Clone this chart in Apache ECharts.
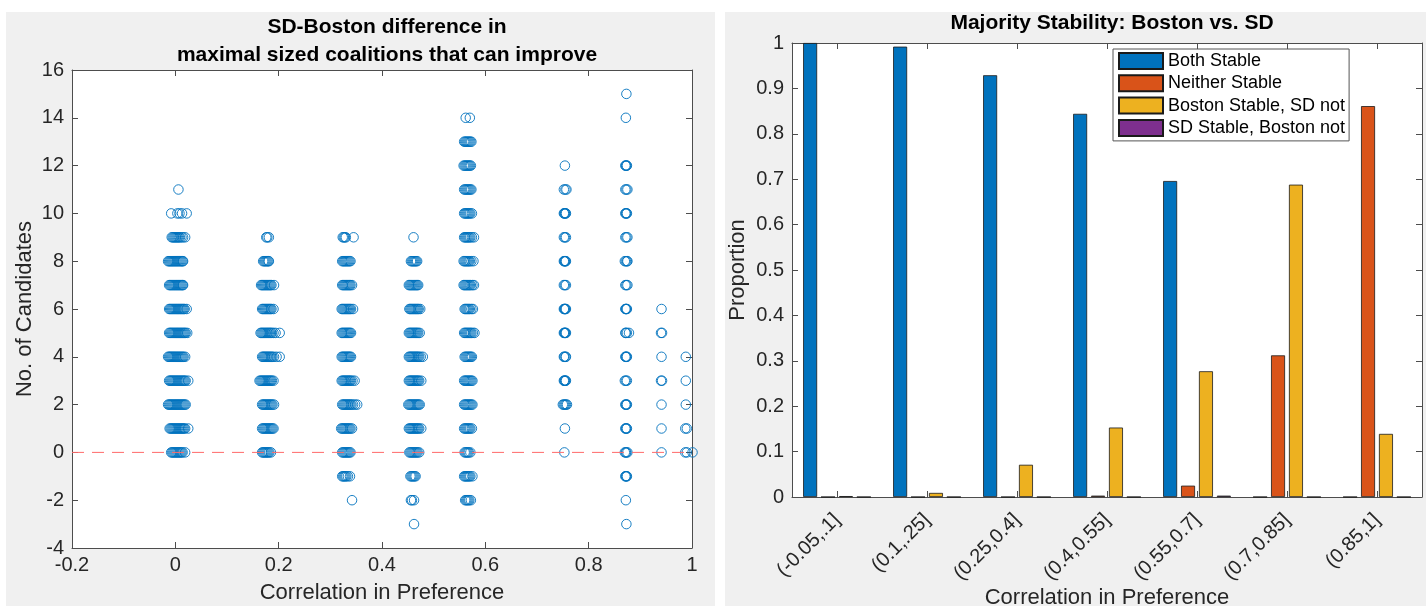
<!DOCTYPE html>
<html>
<head>
<meta charset="utf-8">
<script src="https://cdn.jsdelivr.net/npm/echarts@6/dist/echarts.min.js"></script>
<style>
  html, body { margin: 0; padding: 0; background: #fff; }
  #chart { width: 1426px; height: 606px; }
</style>
</head>
<body>
<div id="chart"></div>
<script>
// ---- Left panel: observations per correlation group, rows are [y, x1, x2, ...] ----
const groupNear000 = [
  [11, 0.006],
  [10, -0.008, 0.004, 0.008, 0.013, 0.022],
  [9, -0.007, -0.005, -0.003, -0.001, 0.001, 0.003, 0.005, 0.007, 0.009, 0.012, 0.015, 0.019],
  [8, -0.014, -0.012, -0.010, -0.008, -0.006, -0.004, -0.002, 0.000, 0.002, 0.004, 0.006, 0.008, 0.010, 0.012, 0.014, 0.015],
  [7, -0.012, -0.010, -0.008, -0.006, -0.004, -0.002, 0.000, 0.002, 0.004, 0.006, 0.008, 0.010, 0.012, 0.014, 0.015],
  [6, -0.012, -0.010, -0.008, -0.006, -0.004, -0.002, 0.000, 0.002, 0.004, 0.006, 0.008, 0.010, 0.012, 0.014, 0.016, 0.018, 0.022],
  [5, -0.012, -0.010, -0.008, -0.006, -0.004, -0.002, 0.000, 0.002, 0.004, 0.006, 0.008, 0.010, 0.012, 0.014, 0.016, 0.018, 0.020, 0.023],
  [4, -0.014, -0.012, -0.010, -0.008, -0.006, -0.004, -0.002, 0.000, 0.002, 0.004, 0.006, 0.008, 0.010, 0.012, 0.014, 0.016, 0.019],
  [3, -0.012, -0.010, -0.008, -0.006, -0.004, -0.002, 0.000, 0.002, 0.004, 0.006, 0.008, 0.010, 0.012, 0.014, 0.016, 0.018, 0.020, 0.025],
  [2, -0.014, -0.012, -0.010, -0.008, -0.006, -0.004, -0.002, 0.000, 0.002, 0.004, 0.006, 0.008, 0.010, 0.012, 0.014, 0.016, 0.018, 0.020],
  [1, -0.011, -0.009, -0.007, -0.005, -0.003, -0.001, 0.001, 0.003, 0.005, 0.007, 0.009, 0.011, 0.013, 0.015, 0.017, 0.019, 0.025],
  [0, -0.008, -0.006, -0.004, -0.002, 0.000, 0.002, 0.004, 0.006, 0.008, 0.010, 0.012, 0.014, 0.019]
];
const groupNear018 = [
  [9, 0.176, 0.178, 0.181],
  [8, 0.170, 0.172, 0.174, 0.176, 0.178, 0.180, 0.181],
  [7, 0.166, 0.168, 0.170, 0.172, 0.174, 0.176, 0.178, 0.180, 0.182, 0.184, 0.186, 0.191],
  [6, 0.168, 0.170, 0.172, 0.174, 0.176, 0.178, 0.180, 0.182, 0.184, 0.186, 0.190],
  [5, 0.165, 0.167, 0.169, 0.171, 0.173, 0.175, 0.177, 0.179, 0.181, 0.183, 0.185, 0.187, 0.190, 0.194, 0.202],
  [4, 0.168, 0.170, 0.172, 0.174, 0.176, 0.178, 0.180, 0.182, 0.184, 0.186, 0.188, 0.191, 0.196, 0.202],
  [3, 0.163, 0.165, 0.167, 0.169, 0.171, 0.173, 0.175, 0.177, 0.179, 0.181, 0.183, 0.185, 0.187, 0.190],
  [2, 0.168, 0.170, 0.172, 0.174, 0.176, 0.178, 0.180, 0.182, 0.184, 0.186, 0.188, 0.191],
  [1, 0.168, 0.170, 0.172, 0.174, 0.176, 0.178, 0.180, 0.182, 0.184, 0.186, 0.188, 0.190],
  [0, 0.168, 0.170, 0.172, 0.174, 0.176, 0.178, 0.180, 0.182, 0.185]
];
const groupNear033 = [
  [9, 0.324, 0.326, 0.328, 0.330, 0.345],
  [8, 0.323, 0.325, 0.327, 0.329, 0.331, 0.333, 0.335, 0.337, 0.339],
  [7, 0.323, 0.325, 0.327, 0.329, 0.331, 0.333, 0.335, 0.337, 0.339, 0.342],
  [6, 0.322, 0.324, 0.326, 0.328, 0.330, 0.332, 0.334, 0.336, 0.338, 0.340, 0.344],
  [5, 0.322, 0.324, 0.326, 0.328, 0.330, 0.332, 0.334, 0.336, 0.338, 0.340],
  [4, 0.322, 0.324, 0.326, 0.328, 0.330, 0.332, 0.334, 0.336, 0.338, 0.340],
  [3, 0.322, 0.324, 0.326, 0.328, 0.330, 0.332, 0.334, 0.336, 0.338, 0.340, 0.343, 0.347],
  [2, 0.323, 0.325, 0.327, 0.329, 0.331, 0.333, 0.335, 0.337, 0.339, 0.341, 0.344, 0.348, 0.352],
  [1, 0.321, 0.323, 0.325, 0.327, 0.329, 0.331, 0.333, 0.335, 0.337, 0.339, 0.342],
  [0, 0.323, 0.325, 0.327, 0.329, 0.331, 0.333, 0.335, 0.337, 0.339],
  [-1, 0.323, 0.325, 0.327, 0.329, 0.331, 0.334, 0.338],
  [-2, 0.342]
];
const groupNear046 = [
  [9, 0.461],
  [8, 0.456, 0.458, 0.460, 0.462, 0.464, 0.466, 0.468],
  [7, 0.452, 0.454, 0.456, 0.458, 0.460, 0.462, 0.464, 0.466, 0.468, 0.470],
  [6, 0.453, 0.455, 0.457, 0.459, 0.461, 0.463, 0.465, 0.467, 0.469, 0.471, 0.474],
  [5, 0.452, 0.454, 0.456, 0.458, 0.460, 0.462, 0.464, 0.466, 0.468, 0.470, 0.473],
  [4, 0.452, 0.454, 0.456, 0.458, 0.460, 0.462, 0.464, 0.466, 0.468, 0.470, 0.472, 0.475, 0.479],
  [3, 0.452, 0.454, 0.456, 0.458, 0.460, 0.462, 0.464, 0.466, 0.468, 0.470, 0.472, 0.476],
  [2, 0.451, 0.453, 0.455, 0.457, 0.459, 0.461, 0.463, 0.465, 0.467, 0.469, 0.471, 0.473],
  [1, 0.452, 0.454, 0.456, 0.458, 0.460, 0.462, 0.464, 0.466, 0.468, 0.470, 0.472, 0.476],
  [0, 0.453, 0.455, 0.457, 0.459, 0.461, 0.463, 0.465, 0.467, 0.469, 0.472],
  [-1, 0.455, 0.457, 0.459, 0.461, 0.463, 0.465],
  [-2, 0.456, 0.458, 0.462],
  [-3, 0.462]
];
const groupNear057 = [
  [14, 0.562, 0.570],
  [13, 0.559, 0.561, 0.563, 0.565, 0.567, 0.569, 0.571, 0.573],
  [12, 0.558, 0.560, 0.562, 0.564, 0.566, 0.568, 0.570, 0.572],
  [11, 0.559, 0.561, 0.563, 0.565, 0.567, 0.569, 0.571, 0.573],
  [10, 0.559, 0.561, 0.563, 0.565, 0.567, 0.569, 0.571, 0.574],
  [9, 0.559, 0.561, 0.563, 0.565, 0.567, 0.569, 0.571, 0.574, 0.578],
  [8, 0.558, 0.560, 0.562, 0.564, 0.566, 0.568, 0.570, 0.573, 0.577],
  [7, 0.558, 0.560, 0.562, 0.564, 0.566, 0.568, 0.570, 0.572, 0.575, 0.578],
  [6, 0.560, 0.562, 0.564, 0.566, 0.568, 0.570, 0.573, 0.576],
  [5, 0.559, 0.561, 0.563, 0.565, 0.567, 0.569, 0.571, 0.573, 0.576, 0.579],
  [4, 0.560, 0.562, 0.564, 0.566, 0.568, 0.570, 0.572, 0.574],
  [3, 0.559, 0.561, 0.563, 0.565, 0.567, 0.569, 0.571, 0.573, 0.575],
  [2, 0.559, 0.561, 0.563, 0.565, 0.567, 0.569, 0.571, 0.573, 0.575],
  [1, 0.559, 0.561, 0.563, 0.565, 0.567, 0.569, 0.571, 0.574],
  [0, 0.560, 0.562, 0.564, 0.566, 0.568, 0.571],
  [-1, 0.559, 0.561, 0.563, 0.565, 0.567, 0.569, 0.571, 0.575],
  [-2, 0.561, 0.563, 0.565, 0.567, 0.569, 0.572]
];
const groupNear075 = [
  [12, 0.754],
  [11, 0.752, 0.755, 0.757],
  [10, 0.752, 0.753, 0.754, 0.755, 0.756],
  [9, 0.752, 0.754, 0.756],
  [8, 0.752, 0.753, 0.754, 0.755, 0.756],
  [7, 0.752, 0.754, 0.756],
  [6, 0.752, 0.753, 0.754, 0.755, 0.756],
  [5, 0.752, 0.753, 0.754, 0.755, 0.756],
  [4, 0.752, 0.753, 0.755, 0.756],
  [3, 0.752, 0.753, 0.754, 0.755, 0.756],
  [2, 0.750, 0.752, 0.754, 0.756, 0.758],
  [1, 0.754],
  [0, 0.753]
];
const groupNear087 = [
  [15, 0.873],
  [14, 0.872],
  [12, 0.871, 0.872, 0.873, 0.874],
  [11, 0.871, 0.873, 0.875],
  [10, 0.871, 0.872, 0.873, 0.874],
  [9, 0.871, 0.873, 0.875],
  [8, 0.870, 0.872, 0.874, 0.875],
  [7, 0.871, 0.873, 0.875],
  [6, 0.871, 0.872, 0.873, 0.874],
  [5, 0.871, 0.872, 0.874, 0.878],
  [4, 0.871, 0.872, 0.873, 0.874],
  [3, 0.870, 0.872, 0.874],
  [2, 0.871, 0.872, 0.873, 0.874],
  [1, 0.871, 0.872, 0.873, 0.874],
  [0, 0.870, 0.872, 0.873, 0.875],
  [-1, 0.871, 0.872, 0.873, 0.874],
  [-2, 0.872],
  [-3, 0.873]
];
const groupNear094 = [
  [6, 0.941],
  [5, 0.940, 0.942],
  [4, 0.941],
  [3, 0.940, 0.942],
  [2, 0.941],
  [1, 0.941],
  [0, 0.941]
];
const groupNear099 = [
  [4, 0.988],
  [3, 0.988],
  [2, 0.988],
  [1, 0.987, 0.990],
  [0, 0.987, 0.990, 1.001]
];

const leftXTicks = { min: -0.2, max: 1, interval: 0.2 };
const leftYTicks = { min: -4, max: 16, interval: 2 };
const zeroLevel = 0;

// ---- Right panel: proportions per correlation bin ----
const bins = ['(-0.05,.1]', '(0.1,.25]', '(0.25,0.4]', '(0.4,0.55]', '(0.55,0.7]', '(0.7,0.85]', '(0.85,1]'];
const bothStable       = [1.000, 0.992, 0.929, 0.844, 0.696, 0.000, 0.000];
const neitherStable    = [0.000, 0.000, 0.000, 0.003, 0.025, 0.312, 0.861];
const bostonStableOnly = [0.002, 0.009, 0.071, 0.153, 0.277, 0.688, 0.139];
const sdStableOnly     = [0.000, 0.000, 0.000, 0.000, 0.003, 0.000, 0.000];

// flatten [y, x...] rows into [x, y] points
const scatterPoints = [];
[groupNear000, groupNear018, groupNear033, groupNear046, groupNear057,
 groupNear075, groupNear087, groupNear094, groupNear099].forEach(group => {
  group.forEach(row => {
    const y = row[0];
    for (let i = 1; i < row.length; i++) scatterPoints.push([row[i], y]);
  });
});

const FONT = '"Liberation Sans", Arial, sans-serif';
const AX = '#4d4d4d';
const TXT = '#262626';
const TICK_FS = 20;
const NAME_FS = 22;

function boxAxis(extra) {
  return Object.assign({
    show: true,
    axisLine: { show: true, onZero: false, lineStyle: { color: AX, width: 1 } },
    axisTick: { show: true, inside: true, length: 6, lineStyle: { color: AX } },
    axisLabel: { show: false },
    splitLine: { show: false }
  }, extra);
}

const chart = echarts.init(document.getElementById('chart'), null, { renderer: 'canvas' });

const option = {
  backgroundColor: '#f0f0f0',
  animation: false,
  textStyle: { fontFamily: FONT },
  graphic: [
    { type: 'rect', shape: { x: 0, y: 0, width: 1426, height: 12 }, style: { fill: '#fff' }, silent: true },
    { type: 'rect', shape: { x: 0, y: 0, width: 6, height: 606 }, style: { fill: '#fff' }, silent: true },
    { type: 'rect', shape: { x: 715, y: 0, width: 10, height: 606 }, style: { fill: '#fff' }, silent: true }
  ],
  title: [
    {
      text: 'SD-Boston difference in\nmaximal sized coalitions that can improve',
      left: 382, top: 8, textAlign: 'center',
      textStyle: { fontFamily: FONT, fontSize: 21, fontWeight: 'bold', color: '#000', lineHeight: 28 }
    },
    {
      text: 'Majority Stability: Boston vs. SD',
      left: 1107, top: 8, textAlign: 'center',
      textStyle: { fontFamily: FONT, fontSize: 21, fontWeight: 'bold', color: '#000' }
    }
  ],
  legend: {
    orient: 'vertical',
    left: 1113, top: 49,
    icon: 'rect',
    itemWidth: 44, itemHeight: 16, itemGap: 4.3,
    padding: [3, 4, 4, 5],
    backgroundColor: '#fff',
    borderColor: '#555', borderWidth: 1,
    textStyle: { fontFamily: FONT, fontSize: 18, color: '#000' },
    data: ['Both Stable', 'Neither Stable', 'Boston Stable, SD not', 'SD Stable, Boston not']
  },
  grid: [
    { left: 72, top: 70, width: 620, height: 478, show: true, backgroundColor: '#fff', borderWidth: 0,
      containLabel: false, outerBoundsMode: 'none' },
    { left: 792, top: 43, width: 630, height: 454, show: true, backgroundColor: '#fff', borderWidth: 0,
      containLabel: false, outerBoundsMode: 'none' }
  ],
  xAxis: [
    boxAxis({
      gridIndex: 0, type: 'value', position: 'bottom',
      min: leftXTicks.min, max: leftXTicks.max, interval: leftXTicks.interval,
      axisLabel: { show: true, color: TXT, fontSize: TICK_FS, fontFamily: FONT, margin: 7 },
      name: 'Correlation in Preference', nameLocation: 'middle', nameGap: 34, nameMoveOverlap: false,
      nameTextStyle: { color: TXT, fontSize: NAME_FS, fontFamily: FONT }
    }),
    boxAxis({
      gridIndex: 0, type: 'value', position: 'top',
      min: leftXTicks.min, max: leftXTicks.max, interval: leftXTicks.interval
    }),
    boxAxis({
      gridIndex: 1, type: 'category', position: 'bottom', data: bins,
      axisTick: { show: true, inside: true, alignWithLabel: true, length: 6, lineStyle: { color: AX } },
      axisLabel: { show: true, color: TXT, fontSize: TICK_FS, fontFamily: FONT, rotate: 45, margin: 20 },
      name: 'Correlation in Preference', nameLocation: 'middle', nameGap: 90, nameMoveOverlap: false,
      nameTextStyle: { color: TXT, fontSize: NAME_FS, fontFamily: FONT }
    }),
    boxAxis({
      gridIndex: 1, type: 'category', position: 'top', data: bins,
      axisTick: { show: true, inside: true, alignWithLabel: true, length: 6, lineStyle: { color: AX } }
    })
  ],
  yAxis: [
    boxAxis({
      gridIndex: 0, type: 'value', position: 'left',
      min: leftYTicks.min, max: leftYTicks.max, interval: leftYTicks.interval,
      axisLabel: { show: true, color: TXT, fontSize: TICK_FS, fontFamily: FONT, margin: 8 },
      name: 'No. of Candidates', nameLocation: 'middle', nameGap: 36, nameMoveOverlap: false,
      nameTextStyle: { color: TXT, fontSize: NAME_FS, fontFamily: FONT }
    }),
    boxAxis({
      gridIndex: 0, type: 'value', position: 'right',
      min: leftYTicks.min, max: leftYTicks.max, interval: leftYTicks.interval
    }),
    boxAxis({
      gridIndex: 1, type: 'value', position: 'left',
      min: 0, max: 1, interval: 0.1,
      axisLabel: { show: true, color: TXT, fontSize: TICK_FS, fontFamily: FONT, margin: 8 },
      name: 'Proportion', nameLocation: 'middle', nameGap: 43, nameMoveOverlap: false,
      nameTextStyle: { color: TXT, fontSize: NAME_FS, fontFamily: FONT }
    }),
    boxAxis({
      gridIndex: 1, type: 'value', position: 'right',
      min: 0, max: 1, interval: 0.1
    })
  ],
  series: [
    {
      // dashed reference line at zero difference
      type: 'line', xAxisIndex: 0, yAxisIndex: 0,
      data: [[leftXTicks.min, zeroLevel], [leftXTicks.max, zeroLevel]],
      symbol: 'none', silent: true,
      lineStyle: { color: '#ff6b6b', type: [12, 8], width: 1 },
      z: 4
    },
    {
      type: 'scatter', xAxisIndex: 0, yAxisIndex: 0,
      data: scatterPoints, clip: false,
      symbol: 'circle', symbolSize: 9.5,
      itemStyle: { color: 'rgba(0,0,0,0)', borderColor: '#0072BD', borderWidth: 0.9, opacity: 1 },
      z: 3
    },
    {
      name: 'Both Stable', type: 'bar', xAxisIndex: 2, yAxisIndex: 2,
      data: bothStable, barWidth: 14, barGap: '28%',
      itemStyle: { color: '#0072BD', borderColor: '#1a1a1a', borderWidth: 0.8 }
    },
    {
      name: 'Neither Stable', type: 'bar', xAxisIndex: 2, yAxisIndex: 2,
      data: neitherStable, barWidth: 14, barGap: '28%',
      itemStyle: { color: '#D95319', borderColor: '#1a1a1a', borderWidth: 0.8 }
    },
    {
      name: 'Boston Stable, SD not', type: 'bar', xAxisIndex: 2, yAxisIndex: 2,
      data: bostonStableOnly, barWidth: 14, barGap: '28%',
      itemStyle: { color: '#EDB120', borderColor: '#1a1a1a', borderWidth: 0.8 }
    },
    {
      name: 'SD Stable, Boston not', type: 'bar', xAxisIndex: 2, yAxisIndex: 2,
      data: sdStableOnly, barWidth: 14, barGap: '28%',
      itemStyle: { color: '#7E2F8E', borderColor: '#1a1a1a', borderWidth: 0.8 }
    }
  ]
};

chart.setOption(option);
</script>
</body>
</html>
